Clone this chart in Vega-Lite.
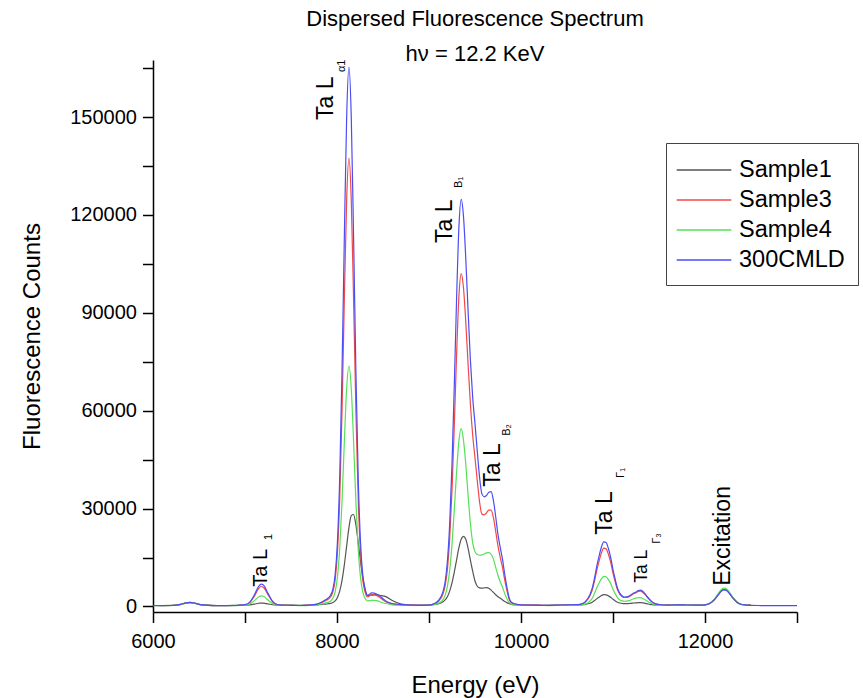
{
  "$schema": "https://vega.github.io/schema/vega-lite/v6.json",
  "width": 644,
  "height": 552,
  "autosize": {"type": "none"},
  "padding": {"left": 153, "top": 60, "right": 66, "bottom": 86},
  "background": "white",
  "config": {
    "view": {"stroke": null},
    "font": "Liberation Sans",
    "axis": {
      "grid": false,
      "domainColor": "black",
      "domainWidth": 1.5,
      "tickColor": "black",
      "tickWidth": 1.5,
      "tickSize": 10.5,
      "labelColor": "black",
      "labelFontSize": 20,
      "labelFont": "Liberation Sans",
      "titleColor": "black",
      "titleFont": "Liberation Sans",
      "titleFontSize": 24,
      "titleFontWeight": "normal",
      "labelOverlap": false,
      "labelFlush": false
    }
  },
  "title": {
    "text": ["Dispersed Fluorescence Spectrum", "hν = 12.2 KeV"],
    "font": "Liberation Sans",
    "fontSize": 22,
    "fontWeight": "normal",
    "color": "black",
    "lineHeight": 35,
    "anchor": "middle",
    "frame": "group",
    "offset": -8
  },
  "datasets": {
    "sample1": [
      {"E":6000,"C":300},{"E":6100,"C":300},{"E":6200,"C":350},{"E":6250,"C":420},{"E":6300,"C":650},{"E":6350,"C":1000},{"E":6400,"C":1200},{"E":6450,"C":1000},{"E":6500,"C":650},{"E":6600,"C":400},{"E":6700,"C":300},{"E":6800,"C":300},{"E":6900,"C":350},{"E":6950,"C":380},
      {"E":7000,"C":414},{"E":7050,"C":490},{"E":7100,"C":700},{"E":7150,"C":985},{"E":7175,"C":1050},{"E":7200,"C":1020},{"E":7250,"C":765},{"E":7300,"C":520},{"E":7350,"C":420},{"E":7400,"C":400},{"E":7500,"C":380},{"E":7600,"C":350},{"E":7700,"C":400},{"E":7780,"C":500},
      {"E":7830,"C":650},{"E":7880,"C":730},{"E":7930,"C":930},{"E":7955,"C":1190},{"E":7980,"C":1690},{"E":8005,"C":2760},{"E":8030,"C":4760},{"E":8055,"C":8070},{"E":8080,"C":12820},{"E":8105,"C":18580},{"E":8130,"C":24150},{"E":8155,"C":27830},{"E":8180,"C":28190},{"E":8205,"C":25070},{"E":8230,"C":19760},{"E":8255,"C":13920},{"E":8280,"C":8910},{"E":8305,"C":5320},{"E":8330,"C":3400},{"E":8380,"C":3470},{"E":8430,"C":3600},{"E":8480,"C":3300},{"E":8530,"C":3000},{"E":8600,"C":1800},{"E":8700,"C":700},{"E":8800,"C":450},{"E":8900,"C":400},{"E":9000,"C":450},
      {"E":9050,"C":600},{"E":9100,"C":800},{"E":9150,"C":1400},{"E":9175,"C":2000},{"E":9200,"C":3000},{"E":9225,"C":4700},{"E":9250,"C":7200},{"E":9275,"C":10500},{"E":9300,"C":14300},{"E":9325,"C":18000},{"E":9350,"C":20600},{"E":9375,"C":21500},{"E":9400,"C":20600},{"E":9425,"C":17800},{"E":9450,"C":14200},{"E":9475,"C":10800},{"E":9500,"C":7800},{"E":9525,"C":6200},{"E":9550,"C":5700},{"E":9575,"C":5600},{"E":9600,"C":5700},{"E":9625,"C":5800},{"E":9650,"C":5600},{"E":9675,"C":5000},{"E":9700,"C":4300},{"E":9725,"C":3600},{"E":9750,"C":3000},{"E":9775,"C":2500},{"E":9800,"C":2000},{"E":9825,"C":1500},{"E":9850,"C":1100},{"E":9875,"C":850},{"E":9900,"C":650},{"E":9950,"C":500},{"E":10000,"C":400},
      {"E":10100,"C":400},{"E":10200,"C":380},{"E":10300,"C":350},{"E":10400,"C":380},{"E":10500,"C":450},{"E":10600,"C":450},{"E":10650,"C":500},{"E":10700,"C":650},{"E":10750,"C":1000},{"E":10775,"C":1300},{"E":10800,"C":1800},{"E":10825,"C":2400},{"E":10850,"C":2900},{"E":10875,"C":3350},{"E":10900,"C":3600},{"E":10925,"C":3550},{"E":10950,"C":3250},{"E":10975,"C":2800},{"E":11000,"C":2200},{"E":11025,"C":1700},{"E":11050,"C":1300},{"E":11075,"C":1050},{"E":11100,"C":900},{"E":11125,"C":850},{"E":11150,"C":850},{"E":11175,"C":900},{"E":11200,"C":950},{"E":11225,"C":1050},{"E":11250,"C":1100},{"E":11275,"C":1150},{"E":11300,"C":1150},{"E":11325,"C":1100},{"E":11350,"C":950},{"E":11375,"C":800},{"E":11400,"C":650},{"E":11425,"C":550},{"E":11450,"C":500},{"E":11500,"C":450},
      {"E":11600,"C":400},{"E":11700,"C":550},{"E":11800,"C":450},{"E":11900,"C":420},{"E":11950,"C":420},{"E":12000,"C":500},{"E":12050,"C":890},{"E":12100,"C":2040},{"E":12150,"C":3880},{"E":12175,"C":4700},{"E":12200,"C":5160},{"E":12225,"C":5100},{"E":12250,"C":4560},{"E":12300,"C":2740},{"E":12350,"C":1240},{"E":12400,"C":590},{"E":12450,"C":430},{"E":12500,"C":400}
    ],
    "sample3": [
      {"E":6000,"C":300},{"E":6100,"C":250},{"E":6200,"C":300},{"E":6250,"C":400},{"E":6300,"C":650},{"E":6350,"C":1000},{"E":6400,"C":1250},{"E":6450,"C":1050},{"E":6500,"C":650},{"E":6600,"C":350},{"E":6700,"C":250},{"E":6800,"C":250},{"E":6900,"C":300},{"E":6950,"C":400},
      {"E":7000,"C":526},{"E":7050,"C":1174},{"E":7100,"C":3087},{"E":7150,"C":5550},{"E":7175,"C":6110},{"E":7200,"C":5870},{"E":7250,"C":3610},{"E":7300,"C":1440},{"E":7350,"C":590},{"E":7400,"C":420},{"E":7500,"C":350},{"E":7600,"C":300},{"E":7700,"C":400},{"E":7780,"C":650},
      {"E":7830,"C":1200},{"E":7880,"C":1840},{"E":7930,"C":2900},{"E":7955,"C":4460},{"E":7980,"C":8165},{"E":8005,"C":16665},{"E":8030,"C":33390},{"E":8055,"C":60400},{"E":8080,"C":94400},{"E":8105,"C":124700},{"E":8130,"C":137450},{"E":8155,"C":124700},{"E":8180,"C":94400},{"E":8205,"C":60400},{"E":8230,"C":33390},{"E":8255,"C":16665},{"E":8280,"C":8165},{"E":8305,"C":4460},{"E":8330,"C":2900},{"E":8380,"C":3640},{"E":8430,"C":3400},{"E":8480,"C":2450},{"E":8530,"C":1450},{"E":8600,"C":800},{"E":8700,"C":500},{"E":8800,"C":400},{"E":8900,"C":350},{"E":9000,"C":400},
      {"E":9050,"C":700},{"E":9100,"C":1520},{"E":9150,"C":3650},{"E":9175,"C":6190},{"E":9200,"C":11370},{"E":9225,"C":20820},{"E":9250,"C":35650},{"E":9275,"C":55470},{"E":9300,"C":77200},{"E":9325,"C":94990},{"E":9350,"C":102000},{"E":9375,"C":97600},{"E":9400,"C":87000},{"E":9425,"C":74200},{"E":9450,"C":62000},{"E":9475,"C":52500},{"E":9500,"C":45500},{"E":9525,"C":38500},{"E":9550,"C":32000},{"E":9575,"C":28300},{"E":9600,"C":28100},{"E":9625,"C":28700},{"E":9650,"C":29500},{"E":9675,"C":29500},{"E":9700,"C":27200},{"E":9725,"C":23000},{"E":9750,"C":18500},{"E":9775,"C":15000},{"E":9800,"C":11800},{"E":9825,"C":7800},{"E":9850,"C":4500},{"E":9875,"C":2000},{"E":9900,"C":1050},{"E":9950,"C":600},{"E":10000,"C":450},
      {"E":10100,"C":400},{"E":10200,"C":350},{"E":10300,"C":350},{"E":10400,"C":400},{"E":10500,"C":500},{"E":10600,"C":520},{"E":10650,"C":680},{"E":10700,"C":1360},{"E":10750,"C":3300},{"E":10775,"C":5100},{"E":10800,"C":7900},{"E":10825,"C":11250},{"E":10850,"C":14050},{"E":10875,"C":16500},{"E":10900,"C":17850},{"E":10925,"C":17650},{"E":10950,"C":16000},{"E":10975,"C":13500},{"E":11000,"C":10200},{"E":11025,"C":7400},{"E":11050,"C":5000},{"E":11075,"C":3700},{"E":11100,"C":3000},{"E":11125,"C":2750},{"E":11150,"C":2800},{"E":11175,"C":3000},{"E":11200,"C":3450},{"E":11225,"C":3900},{"E":11250,"C":4200},{"E":11275,"C":4600},{"E":11300,"C":4700},{"E":11325,"C":4300},{"E":11350,"C":3600},{"E":11375,"C":2750},{"E":11400,"C":2000},{"E":11425,"C":1350},{"E":11450,"C":900},{"E":11500,"C":550},
      {"E":11600,"C":400},{"E":11700,"C":500},{"E":11800,"C":450},{"E":11900,"C":420},{"E":11950,"C":430},{"E":12000,"C":500},{"E":12050,"C":900},{"E":12100,"C":2070},{"E":12150,"C":3960},{"E":12175,"C":4800},{"E":12200,"C":5260},{"E":12225,"C":5200},{"E":12250,"C":4650},{"E":12300,"C":2790},{"E":12350,"C":1260},{"E":12400,"C":600},{"E":12450,"C":430},{"E":12500,"C":400}
    ],
    "sample4": [
      {"E":6000,"C":250},{"E":6100,"C":250},{"E":6200,"C":280},{"E":6250,"C":380},{"E":6300,"C":600},{"E":6350,"C":950},{"E":6400,"C":1200},{"E":6450,"C":1000},{"E":6500,"C":600},{"E":6600,"C":320},{"E":6700,"C":250},{"E":6800,"C":250},{"E":6900,"C":280},{"E":6950,"C":330},
      {"E":7000,"C":414},{"E":7050,"C":740},{"E":7100,"C":1710},{"E":7150,"C":2960},{"E":7175,"C":3240},{"E":7200,"C":3120},{"E":7250,"C":1970},{"E":7300,"C":880},{"E":7350,"C":450},{"E":7400,"C":360},{"E":7500,"C":320},{"E":7600,"C":280},{"E":7700,"C":350},{"E":7780,"C":500},
      {"E":7830,"C":800},{"E":7880,"C":1100},{"E":7930,"C":1665},{"E":7955,"C":2500},{"E":7980,"C":4484},{"E":8005,"C":9035},{"E":8030,"C":17990},{"E":8055,"C":32450},{"E":8080,"C":50650},{"E":8105,"C":66870},{"E":8130,"C":73700},{"E":8155,"C":66870},{"E":8180,"C":50650},{"E":8205,"C":32450},{"E":8230,"C":17990},{"E":8255,"C":9035},{"E":8280,"C":4484},{"E":8305,"C":2500},{"E":8330,"C":1665},{"E":8380,"C":1900},{"E":8430,"C":1800},{"E":8480,"C":1300},{"E":8530,"C":900},{"E":8600,"C":500},{"E":8700,"C":350},{"E":8800,"C":300},{"E":8900,"C":300},{"E":9000,"C":320},
      {"E":9050,"C":500},{"E":9100,"C":900},{"E":9150,"C":2030},{"E":9175,"C":3390},{"E":9200,"C":6150},{"E":9225,"C":11190},{"E":9250,"C":19100},{"E":9275,"C":29680},{"E":9300,"C":41280},{"E":9325,"C":50760},{"E":9350,"C":54500},{"E":9375,"C":51000},{"E":9400,"C":43500},{"E":9425,"C":34000},{"E":9450,"C":25500},{"E":9475,"C":19500},{"E":9500,"C":16800},{"E":9525,"C":15900},{"E":9550,"C":15700},{"E":9575,"C":15800},{"E":9600,"C":16100},{"E":9625,"C":16400},{"E":9650,"C":16500},{"E":9675,"C":16000},{"E":9700,"C":14500},{"E":9725,"C":12000},{"E":9750,"C":9500},{"E":9775,"C":7500},{"E":9800,"C":5800},{"E":9825,"C":3800},{"E":9850,"C":2200},{"E":9875,"C":1100},{"E":9900,"C":600},{"E":9950,"C":400},{"E":10000,"C":350},
      {"E":10100,"C":300},{"E":10200,"C":300},{"E":10300,"C":280},{"E":10400,"C":320},{"E":10500,"C":380},{"E":10600,"C":380},{"E":10650,"C":450},{"E":10700,"C":700},{"E":10750,"C":1650},{"E":10775,"C":2500},{"E":10800,"C":4100},{"E":10825,"C":5800},{"E":10850,"C":7250},{"E":10875,"C":8500},{"E":10900,"C":9200},{"E":10925,"C":9100},{"E":10950,"C":8200},{"E":10975,"C":7000},{"E":11000,"C":5300},{"E":11025,"C":3850},{"E":11050,"C":2650},{"E":11075,"C":2000},{"E":11100,"C":1700},{"E":11125,"C":1600},{"E":11150,"C":1650},{"E":11175,"C":1800},{"E":11200,"C":2050},{"E":11225,"C":2350},{"E":11250,"C":2550},{"E":11275,"C":2700},{"E":11300,"C":2700},{"E":11325,"C":2450},{"E":11350,"C":2050},{"E":11375,"C":1600},{"E":11400,"C":1200},{"E":11425,"C":850},{"E":11450,"C":600},{"E":11500,"C":400},
      {"E":11600,"C":350},{"E":11700,"C":450},{"E":11800,"C":400},{"E":11900,"C":380},{"E":11950,"C":400},{"E":12000,"C":460},{"E":12050,"C":900},{"E":12100,"C":2160},{"E":12150,"C":4200},{"E":12175,"C":5100},{"E":12200,"C":5600},{"E":12225,"C":5540},{"E":12250,"C":4950},{"E":12300,"C":2930},{"E":12350,"C":1280},{"E":12400,"C":560},{"E":12450,"C":380},{"E":12500,"C":350}
    ],
    "cmld300": [
      {"E":6000,"C":300},{"E":6100,"C":250},{"E":6200,"C":300},{"E":6250,"C":400},{"E":6300,"C":650},{"E":6350,"C":1000},{"E":6400,"C":1250},{"E":6450,"C":1050},{"E":6500,"C":650},{"E":6600,"C":350},{"E":6700,"C":250},{"E":6800,"C":250},{"E":6900,"C":300},{"E":6950,"C":400},
      {"E":7000,"C":540},{"E":7050,"C":1270},{"E":7100,"C":3430},{"E":7150,"C":6200},{"E":7175,"C":6830},{"E":7200,"C":6550},{"E":7250,"C":4010},{"E":7300,"C":1570},{"E":7350,"C":610},{"E":7400,"C":420},{"E":7500,"C":350},{"E":7600,"C":300},{"E":7700,"C":400},{"E":7780,"C":700},
      {"E":7830,"C":1300},{"E":7880,"C":2150},{"E":7930,"C":3420},{"E":7955,"C":5300},{"E":7980,"C":9750},{"E":8005,"C":19990},{"E":8030,"C":40120},{"E":8055,"C":72620},{"E":8080,"C":113540},{"E":8105,"C":150010},{"E":8130,"C":165350},{"E":8155,"C":150010},{"E":8180,"C":113540},{"E":8205,"C":72620},{"E":8230,"C":40120},{"E":8255,"C":19990},{"E":8280,"C":9750},{"E":8305,"C":5300},{"E":8330,"C":3420},{"E":8380,"C":4150},{"E":8430,"C":3800},{"E":8480,"C":2800},{"E":8530,"C":1700},{"E":8600,"C":900},{"E":8700,"C":550},{"E":8800,"C":400},{"E":8900,"C":350},{"E":9000,"C":400},
      {"E":9050,"C":800},{"E":9100,"C":1770},{"E":9150,"C":4380},{"E":9175,"C":7490},{"E":9200,"C":13835},{"E":9225,"C":25400},{"E":9250,"C":43570},{"E":9275,"C":67820},{"E":9300,"C":94450},{"E":9325,"C":116200},{"E":9350,"C":124800},{"E":9375,"C":119500},{"E":9400,"C":106500},{"E":9425,"C":90500},{"E":9450,"C":75500},{"E":9475,"C":64000},{"E":9500,"C":56000},{"E":9525,"C":47500},{"E":9550,"C":39500},{"E":9575,"C":34500},{"E":9600,"C":33600},{"E":9625,"C":34000},{"E":9650,"C":35000},{"E":9675,"C":35200},{"E":9700,"C":32500},{"E":9725,"C":27500},{"E":9750,"C":22000},{"E":9775,"C":18000},{"E":9800,"C":14300},{"E":9825,"C":9500},{"E":9850,"C":5500},{"E":9875,"C":2300},{"E":9900,"C":1200},{"E":9950,"C":700},{"E":10000,"C":500},
      {"E":10100,"C":400},{"E":10200,"C":350},{"E":10300,"C":350},{"E":10400,"C":400},{"E":10500,"C":500},{"E":10600,"C":550},{"E":10650,"C":730},{"E":10700,"C":1500},{"E":10750,"C":3700},{"E":10775,"C":5700},{"E":10800,"C":8800},{"E":10825,"C":12500},{"E":10850,"C":15600},{"E":10875,"C":18300},{"E":10900,"C":19800},{"E":10925,"C":19600},{"E":10950,"C":17750},{"E":10975,"C":15000},{"E":11000,"C":11300},{"E":11025,"C":8200},{"E":11050,"C":5500},{"E":11075,"C":4000},{"E":11100,"C":3200},{"E":11125,"C":2900},{"E":11150,"C":2950},{"E":11175,"C":3200},{"E":11200,"C":3700},{"E":11225,"C":4100},{"E":11250,"C":4400},{"E":11275,"C":4900},{"E":11300,"C":5000},{"E":11325,"C":4600},{"E":11350,"C":3800},{"E":11375,"C":2900},{"E":11400,"C":2100},{"E":11425,"C":1400},{"E":11450,"C":950},{"E":11500,"C":600},
      {"E":11600,"C":400},{"E":11700,"C":500},{"E":11800,"C":450},{"E":11900,"C":420},{"E":11950,"C":420},{"E":12000,"C":500},{"E":12050,"C":880},{"E":12100,"C":2000},{"E":12150,"C":3810},{"E":12175,"C":4620},{"E":12200,"C":5060},{"E":12225,"C":5000},{"E":12250,"C":4470},{"E":12300,"C":2690},{"E":12350,"C":1220},{"E":12400,"C":590},{"E":12450,"C":430},{"E":12500,"C":350},{"E":12600,"C":280},{"E":12700,"C":250},{"E":12800,"C":250},{"E":12900,"C":250},{"E":13000,"C":250}
    ],
    "peakNames": [
      {"E":7953,"C":149100,"t":"Ta L"},
      {"E":9247,"C":111400,"t":"Ta L"},
      {"E":9769,"C":36700,"t":"Ta L"},
      {"E":10986,"C":22000,"t":"Ta L"},
      {"E":12270,"C":6340,"t":"Excitation"}
    ],
    "peakNameL1": [
      {"E":7236,"C":6040,"t":"Ta L"}
    ],
    "peakNameG3": [
      {"E":11365,"C":7250,"t":"Ta L"}
    ],
    "subscripts": [
      {"E":7290,"C":20400,"t":"1"},
      {"E":8084,"C":163800,"t":"α1"},
      {"E":9356,"C":128300,"t":"B₁"},
      {"E":9878,"C":52300,"t":"B₂"},
      {"E":11118,"C":39400,"t":"Γ₁"},
      {"E":11506,"C":19200,"t":"Γ₃"}
    ]
  },
  "encoding": {
    "x": {
      "field": "E",
      "type": "quantitative",
      "title": "Energy (eV)",
      "scale": {"domain": [6000, 13000], "nice": false, "zero": false},
      "axis": {
        "values": [6000, 7000, 8000, 9000, 10000, 11000, 12000, 13000],
        "format": "d",
        "labelExpr": "datum.value % 2000 === 0 ? datum.label : ''",
        "labelPadding": 9,
        "titlePadding": 22
      }
    },
    "y": {
      "field": "C",
      "type": "quantitative",
      "title": "Fluorescence Counts",
      "scale": {"domain": [-1700, 167500], "nice": false, "zero": false},
      "axis": {
        "values": [0, 15000, 30000, 45000, 60000, 75000, 90000, 105000, 120000, 135000, 150000, 165000],
        "format": "d",
        "labelExpr": "datum.value % 30000 === 0 ? datum.label : ''",
        "labelPadding": 6,
        "titlePadding": 25
      }
    }
  },
  "layer": [
    {
      "data": {"name": "sample1"},
      "mark": {"type": "line", "strokeWidth": 1.2, "interpolate": "monotone"},
      "encoding": {
        "color": {
          "datum": "Sample1",
          "type": "nominal",
          "scale": {
            "domain": ["Sample1", "Sample3", "Sample4", "300CMLD"],
            "range": ["#555555", "#f04848", "#55e055", "#4c4cf5"]
          },
          "legend": {
            "title": null,
            "orient": "none",
            "legendX": 513,
            "legendY": 83,
            "symbolType": "M-2.1,0H2.1",
            "symbolSize": 676,
            "symbolStrokeWidth": 1.3,
            "symbolOffset": 11,
            "labelOffset": 21,
            "labelFontSize": 23.5,
            "labelFont": "Liberation Sans",
            "labelColor": "black",
            "padding": 13,
            "rowPadding": 4,
            "strokeColor": "#444444",
            "fillColor": "white",
            "cornerRadius": 0
          }
        }
      }
    },
    {
      "data": {"name": "sample3"},
      "mark": {"type": "line", "strokeWidth": 1.2, "interpolate": "monotone"},
      "encoding": {"color": {"datum": "Sample3", "type": "nominal"}}
    },
    {
      "data": {"name": "sample4"},
      "mark": {"type": "line", "strokeWidth": 1.2, "interpolate": "monotone"},
      "encoding": {"color": {"datum": "Sample4", "type": "nominal"}}
    },
    {
      "data": {"name": "cmld300"},
      "mark": {"type": "line", "strokeWidth": 1.2, "interpolate": "monotone"},
      "encoding": {"color": {"datum": "300CMLD", "type": "nominal"}}
    },
    {
      "data": {"name": "peakNames"},
      "mark": {"type": "text", "angle": 270, "align": "left", "baseline": "alphabetic", "fontSize": 23, "font": "Liberation Sans", "color": "black"},
      "encoding": {"text": {"field": "t"}}
    },
    {
      "data": {"name": "peakNameL1"},
      "mark": {"type": "text", "angle": 270, "align": "left", "baseline": "alphabetic", "fontSize": 20, "font": "Liberation Sans", "color": "black"},
      "encoding": {"text": {"field": "t"}}
    },
    {
      "data": {"name": "peakNameG3"},
      "mark": {"type": "text", "angle": 270, "align": "left", "baseline": "alphabetic", "fontSize": 17.5, "font": "Liberation Sans", "color": "black"},
      "encoding": {"text": {"field": "t"}}
    },
    {
      "data": {"name": "subscripts"},
      "mark": {"type": "text", "angle": 270, "align": "left", "baseline": "alphabetic", "fontSize": 11, "font": "Liberation Sans, DejaVu Sans", "color": "black"},
      "encoding": {"text": {"field": "t"}}
    }
  ]
}
